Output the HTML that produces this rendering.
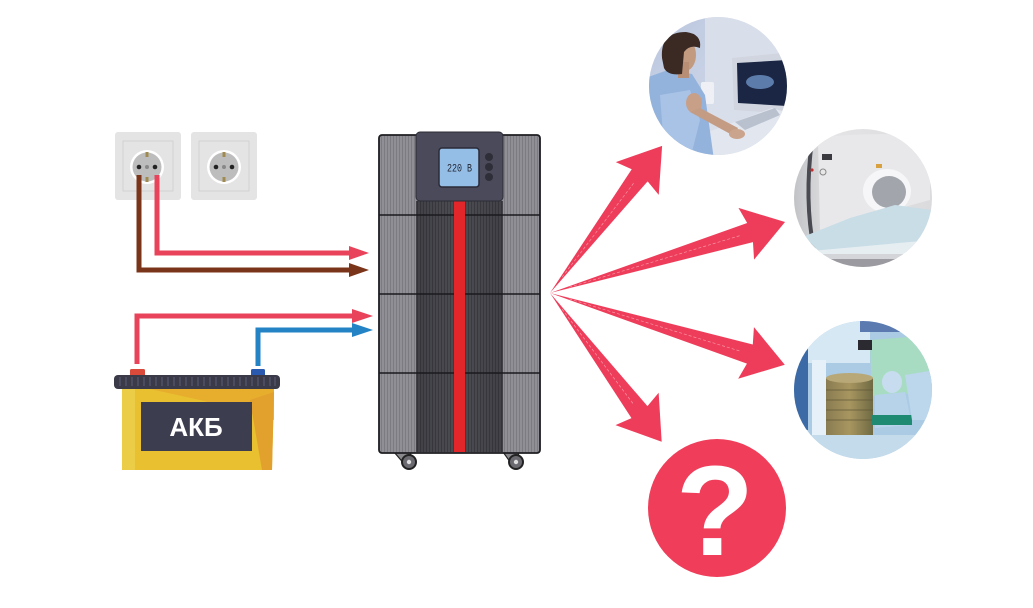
<!DOCTYPE html>
<html><head><meta charset="utf-8">
<style>
html,body{margin:0;padding:0;background:#fff;}
svg{display:block;}
</style></head>
<body>
<svg width="1033" height="608" viewBox="0 0 1033 608" xmlns="http://www.w3.org/2000/svg">
<defs>
  <pattern id="stripesL" width="3" height="10" patternUnits="userSpaceOnUse">
    <rect width="3" height="10" fill="#908f95"/>
    <rect x="0" width="1" height="10" fill="#7c7b81"/>
  </pattern>
  <pattern id="stripesD" width="3" height="10" patternUnits="userSpaceOnUse">
    <rect width="3" height="10" fill="#4c4c53"/>
    <rect x="0" width="1" height="10" fill="#3c3c42"/>
  </pattern>
  <linearGradient id="midFade" x1="0" y1="0" x2="1" y2="0">
    <stop offset="0" stop-color="#000" stop-opacity="0.15"/>
    <stop offset="0.5" stop-color="#000" stop-opacity="0"/>
    <stop offset="1" stop-color="#000" stop-opacity="0.15"/>
  </linearGradient>
  <clipPath id="c1"><circle cx="718" cy="86" r="69"/></clipPath>
  <clipPath id="c2"><circle cx="863" cy="198" r="69"/></clipPath>
  <clipPath id="c3"><circle cx="863" cy="390" r="69"/></clipPath>
  <linearGradient id="usBg" x1="0" y1="0" x2="1" y2="1">
    <stop offset="0" stop-color="#b8c4de"/>
    <stop offset="1" stop-color="#dfe4ee"/>
  </linearGradient>
  <linearGradient id="mriBg" x1="0" y1="0" x2="1" y2="0">
    <stop offset="0" stop-color="#bfc0c4"/>
    <stop offset="0.3" stop-color="#e4e4e6"/>
    <stop offset="1" stop-color="#dadadc"/>
  </linearGradient>
  <linearGradient id="can" x1="0" y1="0" x2="1" y2="0">
    <stop offset="0" stop-color="#8a7c52"/>
    <stop offset="0.5" stop-color="#a89660"/>
    <stop offset="1" stop-color="#6f6a44"/>
  </linearGradient>
</defs>

<rect width="1033" height="608" fill="#fff"/>

<!-- Sockets -->
<g>
  <rect x="115" y="132" width="66" height="68" rx="3" fill="#e4e4e4"/>
  <rect x="123" y="141" width="50" height="50" fill="none" stroke="#d2d2d2" stroke-width="1"/>
  <circle cx="147" cy="167" r="17" fill="#fff"/>
  <circle cx="147" cy="167" r="14.5" fill="#bdbdbd"/>
  <rect x="145.5" y="152" width="3" height="5" fill="#a08a50"/>
  <rect x="145.5" y="177" width="3" height="5" fill="#a08a50"/>
  <circle cx="139" cy="167" r="2.3" fill="#222"/>
  <circle cx="155" cy="167" r="2.3" fill="#222"/>
  <circle cx="147" cy="167" r="2" fill="#888"/>

  <rect x="191" y="132" width="66" height="68" rx="3" fill="#e4e4e4"/>
  <rect x="199" y="141" width="50" height="50" fill="none" stroke="#d2d2d2" stroke-width="1"/>
  <circle cx="224" cy="167" r="17" fill="#fff"/>
  <circle cx="224" cy="167" r="14.5" fill="#bdbdbd"/>
  <rect x="222.5" y="152" width="3" height="5" fill="#a08a50"/>
  <rect x="222.5" y="177" width="3" height="5" fill="#a08a50"/>
  <circle cx="216" cy="167" r="2.3" fill="#222"/>
  <circle cx="232" cy="167" r="2.3" fill="#222"/>
  <circle cx="224" cy="167" r="2" fill="#888"/>
</g>

<!-- Mains wires -->
<polyline points="139,175 139,270 351,270" fill="none" stroke="#7a3419" stroke-width="5"/>
<polygon points="349,263 369,270 349,277" fill="#7a3419"/>
<polyline points="157,175 157,253 351,253" fill="none" stroke="#e8435a" stroke-width="5"/>
<polygon points="349,246 369,253 349,260" fill="#e8435a"/>

<!-- Battery wires -->
<polyline points="137,364 137,316 354,316" fill="none" stroke="#e8435a" stroke-width="5"/>
<polygon points="352,309 373,316 352,323" fill="#e8435a"/>
<polyline points="258,366 258,330 354,330" fill="none" stroke="#2383c4" stroke-width="5"/>
<polygon points="352,323 373,330 352,337" fill="#2383c4"/>

<!-- Battery -->
<g>
  <rect x="130" y="369" width="15" height="8" rx="1.5" fill="#d94a3a"/>
  <rect x="251" y="369" width="14" height="8" rx="1.5" fill="#2a5ab0"/>
  <polygon points="122,389 274,389 272,470 122,470" fill="#e8c030"/>
  <polygon points="150,389 274,389 274,420 200,400" fill="#e6a92e" opacity="0.8"/>
  <polygon points="250,400 274,392 272,470 262,470" fill="#e2a02c"/>
  <polygon points="122,389 135,389 135,470 122,470" fill="#eccd48"/>
  <rect x="114" y="375" width="166" height="14" rx="4" fill="#3a3a48"/>
  <g stroke="#55556a" stroke-width="1.4">
    <line x1="120" y1="377" x2="120" y2="386"/><line x1="126" y1="377" x2="126" y2="386"/>
    <line x1="132" y1="377" x2="132" y2="386"/><line x1="138" y1="377" x2="138" y2="386"/>
    <line x1="144" y1="377" x2="144" y2="386"/><line x1="150" y1="377" x2="150" y2="386"/>
    <line x1="156" y1="377" x2="156" y2="386"/><line x1="162" y1="377" x2="162" y2="386"/>
    <line x1="168" y1="377" x2="168" y2="386"/><line x1="174" y1="377" x2="174" y2="386"/>
    <line x1="180" y1="377" x2="180" y2="386"/><line x1="186" y1="377" x2="186" y2="386"/>
    <line x1="192" y1="377" x2="192" y2="386"/><line x1="198" y1="377" x2="198" y2="386"/>
    <line x1="204" y1="377" x2="204" y2="386"/><line x1="210" y1="377" x2="210" y2="386"/>
    <line x1="216" y1="377" x2="216" y2="386"/><line x1="222" y1="377" x2="222" y2="386"/>
    <line x1="228" y1="377" x2="228" y2="386"/><line x1="234" y1="377" x2="234" y2="386"/>
    <line x1="240" y1="377" x2="240" y2="386"/><line x1="246" y1="377" x2="246" y2="386"/>
    <line x1="252" y1="377" x2="252" y2="386"/><line x1="258" y1="377" x2="258" y2="386"/>
    <line x1="264" y1="377" x2="264" y2="386"/><line x1="270" y1="377" x2="270" y2="386"/>
    <line x1="275" y1="377" x2="275" y2="386"/>
  </g>
  <rect x="141" y="402" width="111" height="49" fill="#3d3d50"/>
  <text x="196" y="436" text-anchor="middle" font-family="Liberation Sans, DejaVu Sans, sans-serif" font-weight="bold" font-size="26" fill="#fff">АКБ</text>
</g>

<!-- UPS -->
<g>
  <polygon points="394,452 410,452 413,462 406,466" fill="#8a8a8e" stroke="#222" stroke-width="1.2"/>
  <circle cx="409" cy="462" r="7" fill="#6a6a70" stroke="#222" stroke-width="2"/>
  <circle cx="409" cy="462" r="2.2" fill="#ddd"/>
  <polygon points="503,452 518,452 520,462 513,466" fill="#8a8a8e" stroke="#222" stroke-width="1.2"/>
  <circle cx="516" cy="462" r="7" fill="#6a6a70" stroke="#222" stroke-width="2"/>
  <circle cx="516" cy="462" r="2.2" fill="#ddd"/>

  <rect x="379" y="135" width="161" height="318" rx="3" fill="url(#stripesL)" stroke="#1e1e22" stroke-width="1.8"/>
  <rect x="416" y="201" width="87" height="251" fill="url(#stripesD)"/>
  <rect x="416" y="201" width="87" height="251" fill="url(#midFade)"/>
  <g stroke="#1a1a1e" stroke-width="1.6">
    <line x1="379" y1="215" x2="540" y2="215"/>
    <line x1="379" y1="294" x2="540" y2="294"/>
    <line x1="379" y1="373" x2="540" y2="373"/>
  </g>
  <rect x="454" y="201" width="11" height="251" fill="#e3262a"/>
  <rect x="416" y="132" width="87" height="69" rx="4" fill="#4a4a5a" stroke="#2c2c36" stroke-width="1"/>
  <rect x="439" y="148" width="40" height="39" rx="3" fill="#95bee6" stroke="#2a2a38" stroke-width="1.5"/>
  <text x="447" y="171.5" font-family="Liberation Mono, DejaVu Sans Mono, monospace" font-size="11" fill="#1e2230" textLength="25" lengthAdjust="spacingAndGlyphs">220 B</text>
  <circle cx="489" cy="157" r="4" fill="#2e2e38"/>
  <circle cx="489" cy="167" r="4" fill="#2e2e38"/>
  <circle cx="489" cy="177" r="4" fill="#2e2e38"/>
</g>

<!-- Red fan arrows -->
<g fill="#ee3d5a">
  <polygon transform="translate(550,293) rotate(-52.7)" points="0,0 148,-10 144,-27 185,0 144,27 148,10"/>
  <polygon transform="translate(550,293) rotate(-16.8)" points="0,0 209,-10 205,-27 245.5,0 205,27 209,10"/>
  <polygon transform="translate(550,293) rotate(17.0)" points="0,0 209,-10 205,-27 245.5,0 205,27 209,10"/>
  <polygon transform="translate(550,293) rotate(53.1)" points="0,0 149,-10 145,-27 186,0 145,27 149,10"/>
</g>
<g stroke="#fff" stroke-opacity="0.45" stroke-width="0.7" stroke-dasharray="3 2" fill="none">
  <line transform="translate(550,293) rotate(-52.7)" x1="20" y1="0" x2="140" y2="0"/>
  <line transform="translate(550,293) rotate(-16.8)" x1="20" y1="0" x2="200" y2="0"/>
  <line transform="translate(550,293) rotate(17.0)" x1="20" y1="0" x2="200" y2="0"/>
  <line transform="translate(550,293) rotate(53.1)" x1="20" y1="0" x2="140" y2="0"/>
</g>

<!-- Photo 1: ultrasound -->
<g clip-path="url(#c1)">
  <rect x="640" y="10" width="160" height="160" fill="url(#usBg)"/>
  <rect x="705" y="10" width="90" height="150" fill="#d9dfea"/>
  <polygon points="732,58 792,52 792,114 734,110" fill="#d0d5df"/>
  <polygon points="737,63 788,60 788,106 738,103" fill="#1b2644"/>
  <ellipse cx="760" cy="82" rx="14" ry="7" fill="#5c7cab"/>
  <polygon points="708,132 772,108 792,114 792,160 708,160" fill="#e2e6ee"/>
  <polygon points="735,122 775,108 780,115 745,130" fill="#b9c1cf"/>
  <rect x="701" y="82" width="13" height="22" rx="2" fill="#eef0f5"/>
  <polygon points="640,80 668,70 692,74 705,95 714,160 640,160" fill="#93b3dc"/>
  <polygon points="660,95 690,90 700,120 690,160 665,160" fill="#a9c3e6"/>
  <ellipse cx="685" cy="55" rx="11" ry="16" fill="#c29a80"/>
  <rect x="678" y="62" width="11" height="16" fill="#b88e74"/>
  <path d="M662,58 Q660,32 686,32 Q702,34 700,48 Q690,44 684,52 L682,74 Q668,76 664,68 Z" fill="#3b2a24"/>
  <ellipse cx="694" cy="103" rx="8" ry="10" fill="#c8a088"/>
  <polygon points="690,112 700,108 738,128 734,136" fill="#c49c84"/>
  <ellipse cx="737" cy="134" rx="8" ry="5" fill="#caa48c"/>
</g>

<!-- Photo 2: MRI -->
<g clip-path="url(#c2)">
  <rect x="790" y="125" width="150" height="150" fill="url(#mriBg)"/>
  <path d="M812,140 Q804,200 814,250" fill="none" stroke="#4a4a52" stroke-width="4"/>
  <path d="M818,140 Q835,132 930,135 L930,200 L820,230 Z" fill="#e8e8ea"/>
  <rect x="822" y="154" width="10" height="6" fill="#3a3a40"/>
  <circle cx="812" cy="170" r="1.6" fill="#c03030"/>
  <circle cx="823" cy="172" r="3" fill="none" stroke="#888" stroke-width="1"/>
  <rect x="876" y="164" width="6" height="4" fill="#d9a040"/>
  <ellipse cx="887" cy="191" rx="24" ry="22" fill="#f6f6f8"/>
  <ellipse cx="889" cy="192" rx="17" ry="16" fill="#a2a6ac"/>
  <polygon points="795,240 850,218 895,205 932,210 932,250 820,262" fill="#c9dde6"/>
  <polygon points="800,252 932,240 932,252 805,262" fill="#e6eef2"/>
  <rect x="790" y="258" width="150" height="20" fill="#9a9aa0"/>
  <rect x="790" y="254" width="150" height="5" fill="#d4d5d8"/>
</g>

<!-- Photo 3: surgery -->
<g clip-path="url(#c3)">
  <rect x="790" y="318" width="150" height="150" fill="#aacbe3"/>
  <polygon points="870,340 935,335 935,392 872,396" fill="#a7dcc2"/>
  <rect x="800" y="318" width="70" height="45" fill="#d6e8f4"/>
  <rect x="860" y="320" width="50" height="12" fill="#5a7ab0"/>
  <rect x="858" y="340" width="14" height="10" fill="#2a2a30"/>
  <rect x="794" y="330" width="14" height="100" fill="#3c6aa6"/>
  <rect x="812" y="360" width="14" height="80" fill="#e6f0f8"/>
  <rect x="826" y="378" width="47" height="58" fill="url(#can)"/>
  <ellipse cx="849.5" cy="378" rx="23.5" ry="5" fill="#b8a878"/>
  <g stroke="#5e5636" stroke-width="1" opacity="0.7">
    <line x1="826" y1="390" x2="873" y2="390"/><line x1="826" y1="400" x2="873" y2="400"/>
    <line x1="826" y1="410" x2="873" y2="410"/><line x1="826" y1="420" x2="873" y2="420"/>
  </g>
  <ellipse cx="892" cy="382" rx="10" ry="11" fill="#c8dcef"/>
  <polygon points="875,395 905,392 912,425 875,428" fill="#b6d3ea"/>
  <rect x="872" y="415" width="40" height="10" fill="#1f8a72"/>
  <polygon points="905,375 935,370 935,420 912,420" fill="#bcd6ec"/>
  <rect x="790" y="435" width="150" height="30" fill="#c4dbeb"/>
</g>

<!-- Question circle -->
<circle cx="717" cy="508" r="69" fill="#ef3d5a"/>
<text x="715" y="555" text-anchor="middle" font-family="Liberation Sans, Arial, sans-serif" font-weight="bold" font-size="128" fill="#fff">?</text>
</svg>
</body></html>
